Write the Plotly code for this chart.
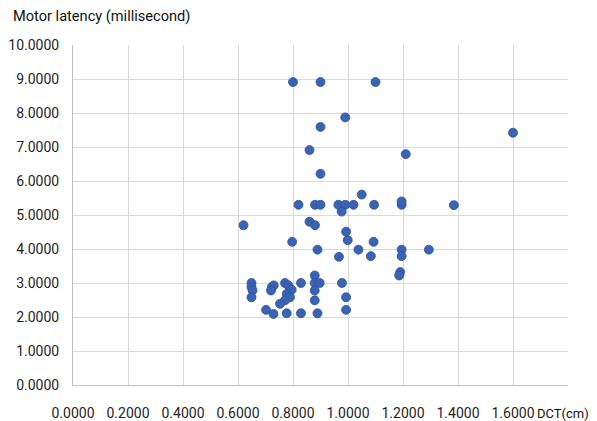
import plotly.graph_objects as go

dct_cm = [0.80, 0.90, 1.10, 0.99, 0.90, 0.86, 1.21, 0.90, 1.05,
          0.82, 0.88, 0.90, 0.965, 0.99, 1.02, 1.095, 1.195, 1.195, 0.977,
          1.60, 1.385, 0.62, 0.86, 0.88, 0.993, 0.999, 0.797, 1.093,
          0.889, 1.038, 1.195, 1.294, 0.967, 1.083, 1.195, 1.19, 1.186, 0.879,
          0.649, 0.649, 0.653, 0.649, 0.723, 0.73, 0.72,
          0.771, 0.783, 0.795, 0.777, 0.789, 0.771, 0.753,
          0.829, 0.879, 0.897, 0.879, 0.879, 0.978, 0.993,
          0.702, 0.729, 0.777, 0.829, 0.889, 0.993]
motor_latency_ms = [8.91, 8.91, 8.91, 7.87, 7.59, 6.91, 6.79, 6.21, 5.60,
                    5.30, 5.30, 5.30, 5.30, 5.30, 5.30, 5.30, 5.30, 5.40, 5.10,
                    7.42, 5.29, 4.70, 4.80, 4.70, 4.51, 4.26, 4.21, 4.21,
                    3.98, 3.98, 3.98, 3.98, 3.77, 3.79, 3.79, 3.32, 3.22, 3.22,
                    3.00, 2.88, 2.78, 2.58, 2.88, 2.93, 2.78,
                    3.00, 2.93, 2.80, 2.68, 2.58, 2.49, 2.39,
                    3.00, 3.00, 3.00, 2.78, 2.49, 3.00, 2.58,
                    2.21, 2.09, 2.11, 2.11, 2.11, 2.21]

x_ticks = [0.0, 0.2, 0.4, 0.6, 0.8, 1.0, 1.2, 1.4, 1.6]
x_ticklabels = ["0.0000", "0.2000", "0.4000", "0.6000", "0.8000", "1.0000",
                "1.2000", "1.4000", "1.6000"]
y_ticks = list(range(0, 11))
y_ticklabels = [f"{v}.0000" for v in y_ticks]

title_text = "Motor latency (millisecond)"
x_title = "DCT(cm)"

FONT = "Roboto"
TXT = "#1f1f1f"

# page body has an 8px margin; figure sized so it fills the 597x421 window
W, H = 589, 413
ML, MR, MT, MB = 64.5, 29, 37.3, 36
PW, PH = W - ML - MR, H - MT - MB

fig = go.Figure()
fig.add_trace(go.Scatter(
    x=dct_cm, y=motor_latency_ms, mode="markers",
    marker=dict(size=9, color="#3a64b3", line=dict(width=0.8, color="#2e52a0")),
    showlegend=False, hoverinfo="skip"))

fig.update_layout(
    width=W, height=H,
    margin=dict(l=ML, r=MR, t=MT, b=MB, autoexpand=False),
    paper_bgcolor="white", plot_bgcolor="white",
    font=dict(family=FONT, color=TXT, size=14),
)
fig.update_xaxes(
    range=[0, 1.8], tickmode="array", tickvals=x_ticks + [1.8], ticktext=x_ticklabels + [""],
    showgrid=True, gridcolor="#d9d9d9", gridwidth=1,
    showline=True, linecolor="#bfbfbf", linewidth=1, mirror=False,
    zeroline=False, ticks="", ticklabelstandoff=15,
    tickfont=dict(family=FONT, size=14, color=TXT))
fig.update_yaxes(
    range=[0, 10], tickmode="array", tickvals=y_ticks, ticktext=y_ticklabels,
    showgrid=True, gridcolor="#d9d9d9", gridwidth=1,
    showline=True, linecolor="#bfbfbf", linewidth=1,
    zeroline=False, ticks="", ticklabelstandoff=10,
    tickfont=dict(family=FONT, size=14, color=TXT))

fig.add_annotation(text=title_text, xref="paper", yref="paper",
                   x=-(ML - 2) / PW, y=1 + 29 / PH, xanchor="left", yanchor="middle",
                   showarrow=False, font=dict(family=FONT, size=14.6, color="#111111"))
fig.add_annotation(text=x_title, xref="paper", yref="paper",
                   x=1 + (MR - 6) / PW, y=-28 / PH, xanchor="right", yanchor="middle",
                   showarrow=False, font=dict(family=FONT, size=13, color="#111111"))

fig.write_html("out.html")
